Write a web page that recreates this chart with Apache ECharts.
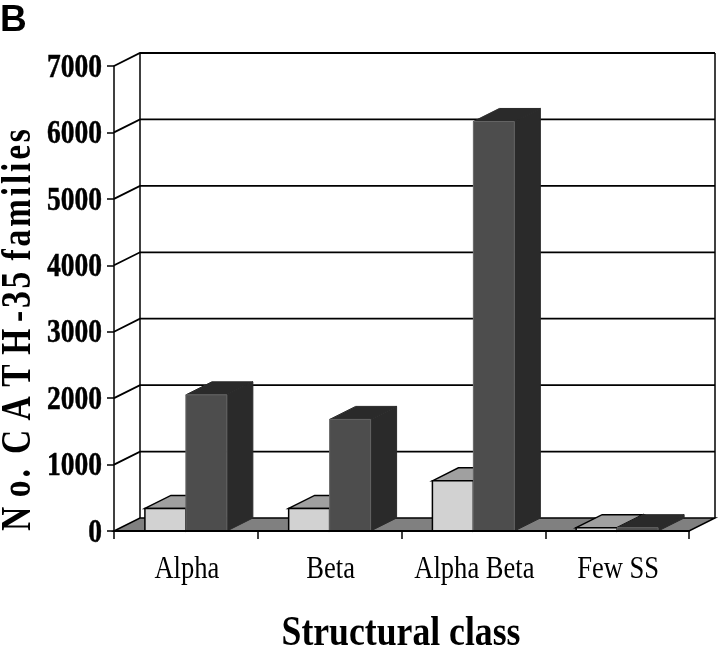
<!DOCTYPE html>
<html lang="en" style="height: 100%">
<head>
  <meta charset="utf-8">
</head>
<body style="height: 100%; margin: 0; background: #fff">
  <div id="container" style="width: 720px; height: 647px"></div>

  <script type="text/javascript" src="https://cdn.jsdelivr.net/npm/echarts@6/dist/echarts.min.js"></script>
  <script type="text/javascript">
    var categories = ['Alpha', 'Beta', 'Alpha Beta', 'Few SS'];
    var lightValues = [340, 340, 755, 50];
    var darkValues = [2050, 1680, 6165, 50];
    var yTicks = [0, 1000, 2000, 3000, 4000, 5000, 6000, 7000];

    // depth of the fake 3d box, in pixels
    var DX = 26;
    var DY = -13;
    var BAR_RATIO = 0.285;
    var SERIF = '"Liberation Serif", "Times New Roman", serif';
    // the y title is tracked out in the original, zrender has no letter spacing
    var Y_TITLE = 'N\u2009\u200ao\u200a.\u2009 C\u2009\u200aA\u2009\u200aT\u2009\u200aH\u2009-\u200a3\u200a5 \u200af\u200aa\u200am\u200ai\u200al\u200ai\u200ae\u200as';

    function wallItem(params, api) {
      var grid = params.coordSys;
      var y = api.coord([0, api.value(1)])[1];
      var left = grid.x;
      var right = grid.x + grid.width;
      var children = [];
      if (api.value(1) === 0) {
        children.push({
          type: 'polygon',
          shape: { points: [[left, y], [left + DX, y + DY], [right + DX, y + DY], [right, y]] },
          style: { fill: '#808080', stroke: '#000', lineWidth: 1.5 }
        });
        children.push({
          type: 'line',
          shape: { x1: left + DX, y1: y + DY, x2: left + DX, y2: grid.y + DY },
          style: { stroke: '#000', lineWidth: 1.5 }
        });
        children.push({
          type: 'line',
          shape: { x1: right + DX, y1: y + DY, x2: right + DX, y2: grid.y + DY },
          style: { stroke: '#000', lineWidth: 1.5 }
        });
      } else {
        children.push({
          type: 'polyline',
          shape: { points: [[left, y], [left + DX, y + DY], [right + DX, y + DY]] },
          style: { fill: 'none', stroke: '#000', lineWidth: 1.8 }
        });
      }
      return { type: 'group', children: children };
    }

    function barItem(colors, shift) {
      return function (params, api) {
        var top = api.coord([api.value(0), api.value(1)]);
        var base = api.coord([api.value(0), 0]);
        var w = api.size([1, 0])[0] * BAR_RATIO;
        var x0 = top[0] + shift * w;
        var x1 = x0 + w;
        return {
          type: 'group',
          children: [
            {
              type: 'polygon',
              shape: { points: [[x1, base[1]], [x1 + DX, base[1] + DY], [x1 + DX, top[1] + DY], [x1, top[1]]] },
              style: { fill: colors.side, stroke: colors.edge, lineWidth: colors.width }
            },
            {
              type: 'polygon',
              shape: { points: [[x0, top[1]], [x0 + DX, top[1] + DY], [x1 + DX, top[1] + DY], [x1, top[1]]] },
              style: { fill: colors.top, stroke: colors.edge, lineWidth: colors.width }
            },
            {
              type: 'rect',
              shape: { x: x0, y: top[1], width: w, height: base[1] - top[1] },
              style: { fill: colors.front, stroke: colors.frontEdge, lineWidth: colors.width }
            }
          ]
        };
      };
    }

    function yLabelItem(params, api) {
      var p = api.coord([0, api.value(1)]);
      return {
        type: 'text',
        x: params.coordSys.x - 12,
        y: p[1] + 2,
        scaleX: 0.81,
        style: {
          text: String(api.value(1)),
          font: 'bold 34px ' + SERIF,
          fill: '#000',
          stroke: '#000',
          lineWidth: 0.5,
          textAlign: 'right',
          textVerticalAlign: 'middle'
        }
      };
    }

    function xLabelItem(params, api) {
      var p = api.coord([api.value(0), 0]);
      return {
        type: 'text',
        x: p[0] + 1,
        y: p[1] + 39,
        scaleX: 0.83,
        style: {
          text: categories[params.dataIndex],
          font: '32px ' + SERIF,
          fill: '#000',
          textAlign: 'center',
          textVerticalAlign: 'middle'
        }
      };
    }

    var dom = document.getElementById('container');
    var myChart = echarts.init(dom, null, { renderer: 'canvas' });

    var option = {
      animation: false,
      grid: { left: 114, right: 31, top: 66, bottom: 116 },
      xAxis: {
        type: 'category',
        data: categories,
        z: 10,
        axisLine: { lineStyle: { color: '#000', width: 2 } },
        axisTick: { show: true, length: 8, lineStyle: { color: '#000', width: 1.5 } },
        axisLabel: { show: false }
      },
      yAxis: {
        type: 'value',
        min: 0,
        max: 7000,
        interval: 1000,
        z: 10,
        splitLine: { show: false },
        axisLine: { show: true, lineStyle: { color: '#000', width: 1.5 } },
        axisTick: { show: true, length: 7, lineStyle: { color: '#000', width: 1.5 } },
        axisLabel: { show: false }
      },
      graphic: [
        {
          type: 'text', left: 0, top: 2,
          style: { text: 'B', font: 'bold 37px "Liberation Sans", Arial, sans-serif', fill: '#000' }
        },
        {
          type: 'text', x: 401, y: 634, scaleX: 0.83,
          style: { text: 'Structural class', font: 'bold 43px ' + SERIF, fill: '#000', textAlign: 'center', textVerticalAlign: 'middle' }
        },
        {
          type: 'text', x: 19, y: 330, rotation: Math.PI / 2, scaleX: 0.78,
          style: { text: Y_TITLE, font: 'bold 43px ' + SERIF, fill: '#000', textAlign: 'center', textVerticalAlign: 'middle' }
        }
      ],
      series: [
        {
          type: 'custom', name: 'walls', silent: true, z: 1,
          data: yTicks.map(function (v) { return [0, v]; }),
          encode: { x: 0, y: 1 },
          renderItem: wallItem
        },
        {
          type: 'custom', name: 'Light', silent: true, z: 2,
          data: lightValues.map(function (v, i) { return [i, v]; }),
          encode: { x: 0, y: 1 },
          renderItem: barItem({ front: '#d2d2d2', top: '#a0a0a0', side: '#808080', edge: '#000', frontEdge: '#000', width: 1.5 }, -1)
        },
        {
          type: 'custom', name: 'Dark', silent: true, z: 3,
          data: darkValues.map(function (v, i) { return [i, v]; }),
          encode: { x: 0, y: 1 },
          renderItem: barItem({ front: '#4d4d4d', top: '#2a2a2a', side: '#2a2a2a', edge: '#2a2a2a', frontEdge: '#666', width: 1 }, 0)
        },
        {
          type: 'custom', name: 'yLabels', silent: true, z: 4,
          data: yTicks.map(function (v) { return [0, v]; }),
          encode: { x: 0, y: 1 },
          renderItem: yLabelItem
        },
        {
          type: 'custom', name: 'xLabels', silent: true, z: 4,
          data: categories.map(function (c, i) { return [i, 0]; }),
          encode: { x: 0, y: 1 },
          renderItem: xLabelItem
        }
      ]
    };

    myChart.setOption(option);
    window.addEventListener('resize', myChart.resize);
  </script>
</body>
</html>
